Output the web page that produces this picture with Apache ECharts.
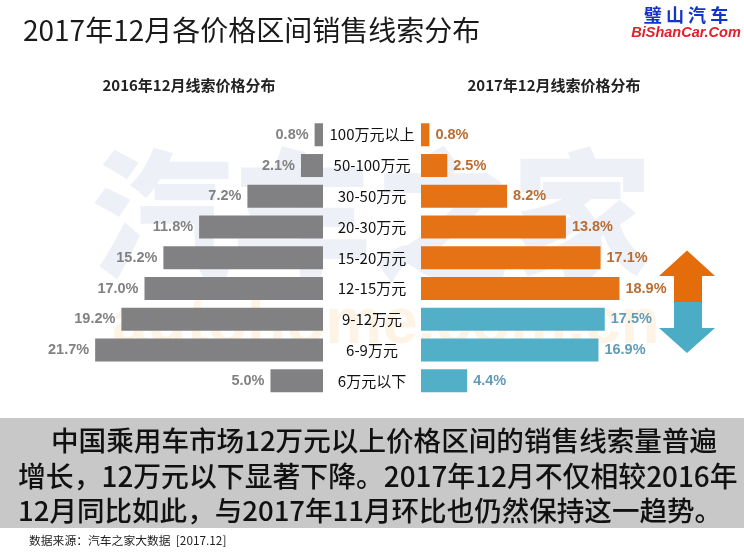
<!DOCTYPE html>
<html lang="zh">
<head>
    <meta charset="UTF-8"/>
    <title>2017年12月各价格区间销售线索分布</title>
    <script src="https://cdn.jsdelivr.net/npm/echarts@6/dist/echarts.min.js"></script>
    <style>
        html, body { margin: 0; padding: 0; background: #fff; }
    </style>
</head>
<body>
<div id="main" style="width: 744px;height: 558px;"></div>
<script type="text/javascript">
    // 价格区间
    var categories = ['100万元以上', '50-100万元', '30-50万元', '20-30万元', '15-20万元', '12-15万元', '9-12万元', '6-9万元', '6万元以下'];
    var share2016 = [0.8, 2.1, 7.2, 11.8, 15.2, 17.0, 19.2, 21.7, 5.0];
    var share2017 = [0.8, 2.5, 8.2, 13.8, 17.1, 18.9, 17.5, 16.9, 4.4];
    var bandLines = [
        '中国乘用车市场12万元以上价格区间的销售线索量普遍',
        '增长，12万元以下显著下降。2017年12月不仅相较2016年',
        '12月同比如此，与2017年11月环比也仍然保持这一趋势。'
    ];

    var CJK = '"Noto Sans CJK SC", "Noto Sans", sans-serif';
    var LATIN = '"Liberation Sans", Arial, sans-serif';
    var GRAY = '#7c7c7e', ORANGE = '#e46c0a', BLUE = '#4bacc6';
    var AXIS_MAX = 25, PLOT_W = 262.5, PLOT_TOP = 119.4, PLOT_H = 276.8;

    // 12万元以上为涨（橙），以下为跌（蓝）
    function barColor(i) { return i < 6 ? ORANGE : BLUE; }
    function labelColor(i) { return i < 6 ? '#b5672a' : '#5c97b3'; }

    function text(x, y, str, size, color, extra, z) {
        var style = {text: str, x: x, y: y, fontSize: size, fill: color, fontFamily: CJK, textVerticalAlign: 'middle'};
        for (var k in extra) { style[k] = extra[k]; }
        return {type: 'text', z: z === undefined ? 10 : z, style: style};
    }

    var graphics = [
        // 水印，压在柱子下面
        text(92, 215, '汽车之家', 140, '#edf1f7', {fontWeight: 900}, 0),
        text(112, 325, 'autohome.com.cn', 64, '#fdf4e6', {fontFamily: LATIN, fontWeight: 'bold'}, 0),
        // 底部文字条
        {type: 'rect', z: 1, shape: {x: 0, y: 418, width: 744, height: 110}, style: {fill: '#c8c8c8'}},
        text(23, 30, '2017年12月各价格区间销售线索分布', 28, '#1a1a1a'),
        text(189, 85, '2016年12月线索价格分布', 15, '#222', {fontWeight: 'bold', textAlign: 'center'}),
        text(554, 85, '2017年12月线索价格分布', 15, '#222', {fontWeight: 'bold', textAlign: 'center'}),
        text(51, 441, bandLines[0], 27.6, '#111', {fontWeight: 500}),
        text(18, 476, bandLines[1], 27.85, '#111', {fontWeight: 500}),
        text(18, 511, bandLines[2], 27.55, '#111', {fontWeight: 500}),
        text(29, 541, '数据来源：汽车之家大数据  [2017.12]', 11.8, '#222'),
        // 角标
        text(686, 15, '璧 山 汽 车', 18, '#1433c8', {textAlign: 'center', fontWeight: 'bold', fontFamily: '"Noto Sans CJK TC", sans-serif'}),
        text(686, 33, 'BiShanCar.Com', 14.5, '#e0202a', {textAlign: 'center', fontWeight: 'bold', fontStyle: 'italic', fontFamily: LATIN}),
        // 涨跌箭头
        {type: 'polygon', z: 5, shape: {points: [[687, 250.6], [715, 276], [702, 276], [702, 302], [674, 302], [674, 276], [659, 276]]}, style: {fill: ORANGE}},
        {type: 'polygon', z: 5, shape: {points: [[674, 302], [702, 302], [702, 328], [715, 328], [687, 353], [659, 328], [674, 328]]}, style: {fill: BLUE}}
    ];

    function valueAxis(idx, inverse) {
        return {gridIndex: idx, type: 'value', min: 0, max: AXIS_MAX, inverse: inverse, show: false};
    }

    var myChart = echarts.init(document.getElementById('main'), null, {renderer: 'canvas'});
    myChart.setOption({
        animation: false,
        backgroundColor: '#fff',
        graphic: graphics,
        grid: [
            {left: 323 - PLOT_W, top: PLOT_TOP, width: PLOT_W, height: PLOT_H},
            {left: 421, top: PLOT_TOP, width: PLOT_W, height: PLOT_H}
        ],
        xAxis: [valueAxis(0, true), valueAxis(1, false)],
        yAxis: [
            {gridIndex: 0, type: 'category', inverse: true, data: categories, show: false},
            {
                gridIndex: 1, type: 'category', inverse: true, data: categories,
                axisLine: {show: false}, axisTick: {show: false},
                axisLabel: {margin: 49, align: 'center', fontSize: 15, color: '#111', fontFamily: CJK, interval: 0}
            }
        ],
        series: [
            {
                name: '2016年12月', type: 'bar', xAxisIndex: 0, yAxisIndex: 0, barWidth: 23,
                data: share2016.map(function (v) {
                    return {value: v, itemStyle: {color: GRAY, opacity: 0.96}};
                }),
                label: {
                    show: true, position: 'left', distance: 6, fontSize: 14.5, fontWeight: 'bold',
                    fontFamily: LATIN, color: GRAY,
                    formatter: function (p) { return p.value.toFixed(1) + '%'; }
                }
            },
            {
                name: '2017年12月', type: 'bar', xAxisIndex: 1, yAxisIndex: 1, barWidth: 23,
                data: share2017.map(function (v, i) {
                    return {
                        value: v,
                        itemStyle: {color: barColor(i), opacity: 0.96},
                        label: {color: labelColor(i)}
                    };
                }),
                label: {
                    show: true, position: 'right', distance: 6, fontSize: 14.5, fontWeight: 'bold',
                    fontFamily: LATIN,
                    formatter: function (p) { return p.value.toFixed(1) + '%'; }
                }
            }
        ]
    });
</script>
</body>
</html>
